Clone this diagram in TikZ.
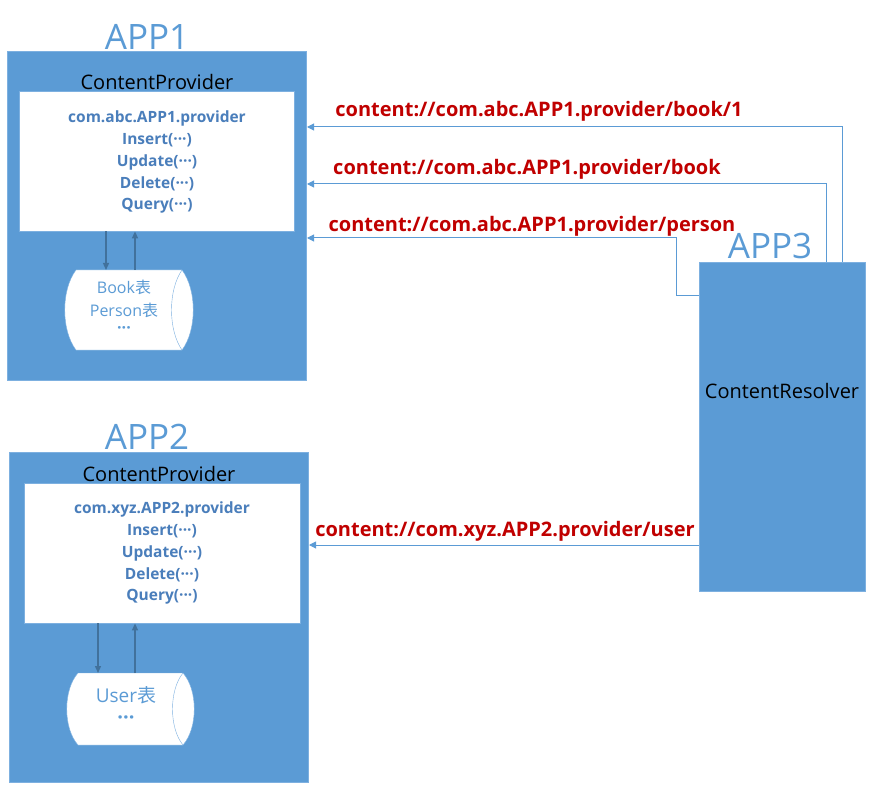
\documentclass[tikz,border=0pt]{standalone}
\usepackage{fontspec}
\setmainfont{Open Sans}
\newfontfamily\cjk{Noto Sans CJK SC}
\usetikzlibrary{arrows.meta}
\definecolor{bfill}{HTML}{5B9BD5}
\definecolor{bline}{HTML}{7DB0E0}
\definecolor{itxt}{HTML}{4A7EBB}
\definecolor{rtxt}{HTML}{C00000}
\definecolor{darr}{HTML}{41719C}
\begin{document}
\begin{tikzpicture}[x=1pt,y=-1pt,
  app/.style={draw=bline,fill=bfill,line width=1pt},
  white/.style={draw=bline,fill=white},
  title/.style={text=bfill,font=\fontsize{35}{35}\selectfont},
  cp/.style={font=\fontsize{20}{20}\selectfont},
  itm/.style={text=itxt,font=\bfseries\fontsize{15.5}{15.5}\selectfont},
  url/.style={text=rtxt,font=\bfseries\fontsize{20}{20}\selectfont},
  db/.style={text=bfill,font=\fontsize{16}{16}\selectfont},
  conn/.style={draw=bfill,line width=1pt,-{Triangle[length=7pt,width=7pt]}},
  inner/.style={draw=darr,line width=1.3pt,-{Triangle[length=7pt,width=6pt]}}]
\useasboundingbox (0,0) rectangle (874,791);
% APP1
\node[app,minimum width=299,minimum height=329,anchor=north west,inner sep=0] (app1) at (7,51) {};
\node[title] (t1) at (147,37) {APP1};
\node[cp] (cp1) at (157,82) {ContentProvider};
\node[white,minimum width=275,minimum height=140,anchor=north west,inner sep=0] (w1) at (19,91) {};
\node[itm] (a1) at (157,118) {com.abc.APP1.provider};
\node[itm] (a2) at (157,140) {Insert(···)};
\node[itm] (a3) at (157,162) {Update(···)};
\node[itm] (a4) at (157,184) {Delete(···)};
\node[itm] (a5) at (157,206) {Query(···)};
\draw[white] (76,270) -- (182,270) .. controls (197,290) and (197,330) .. (182,350) -- (76,350) .. controls (61,330) and (61,290) .. (76,270) -- cycle;
\draw[draw=bline] (182,270) .. controls (168,290) and (168,330) .. (182,350);
\coordinate (c1) at (124,270);
\node[db] (b1) at (124,287) {Book{\cjk 表}};
\node[db] (b2) at (124,310) {Person{\cjk 表}};
\node[db,font=\bfseries\fontsize{16}{16}\selectfont] (b3) at (124,330) {···};
\draw[inner] (w1.south -| 106,0) -- (c1 -| 106,0);
\draw[inner] (c1 -| 135,0) -- (w1.south -| 135,0);
% APP2
\node[app,minimum width=299,minimum height=330,anchor=north west,inner sep=0] (app2) at (9,452) {};
\node[title] (t2) at (147,437) {APP2};
\node[cp] (cp2) at (159,474) {ContentProvider};
\node[white,minimum width=276,minimum height=140,anchor=north west,inner sep=0] (w2) at (24,483) {};
\node[itm] (d1) at (162,509) {com.xyz.APP2.provider};
\node[itm] (d2) at (162,531) {Insert(···)};
\node[itm] (d3) at (162,553) {Update(···)};
\node[itm] (d4) at (162,575) {Delete(···)};
\node[itm] (d5) at (162,597) {Query(···)};
\draw[white] (78,673) -- (183,673) .. controls (198,690) and (198,728) .. (183,745) -- (78,745) .. controls (63,728) and (63,690) .. (78,673) -- cycle;
\draw[draw=bline] (183,673) .. controls (169,690) and (169,728) .. (183,745);
\coordinate (c2) at (126,673);
\node[db,font=\fontsize{19}{19}\selectfont] (u1) at (126,695) {User{\cjk 表}};
\node[db,font=\bfseries\fontsize{20}{20}\selectfont] (u2) at (126,720) {···};
\draw[inner] (w2.south -| 98,0) -- (c2 -| 98,0);
\draw[inner] (c2 -| 135,0) -- (w2.south -| 135,0);
% APP3
\node[app,minimum width=166,minimum height=329,anchor=north west,inner sep=0] (app3) at (699,262) {};
\node[title] (t3) at (770,246) {APP3};
\node[cp] (cr) at (782,391) {ContentResolver};
% connectors
\draw[conn] (app3.north -| 842,0) |- (app1.east |- 0,127);
\draw[conn] (app3.north -| 826,0) |- (app1.east |- 0,184);
\draw[conn] (app3.west |- 0,295) -- (676,295) |- (app1.east |- 0,238);
\draw[conn] (app3.west |- 0,545) -- (app2.east |- 0,545);
\node[url] (l1) at (539,111) {content://com.abc.APP1.provider/book/1};
\node[url] (l2) at (527,169) {content://com.abc.APP1.provider/book};
\node[url] (l3) at (532,226) {content://com.abc.APP1.provider/person};
\node[url] (l4) at (505,531) {content://com.xyz.APP2.provider/user};
\end{tikzpicture}
\end{document}
